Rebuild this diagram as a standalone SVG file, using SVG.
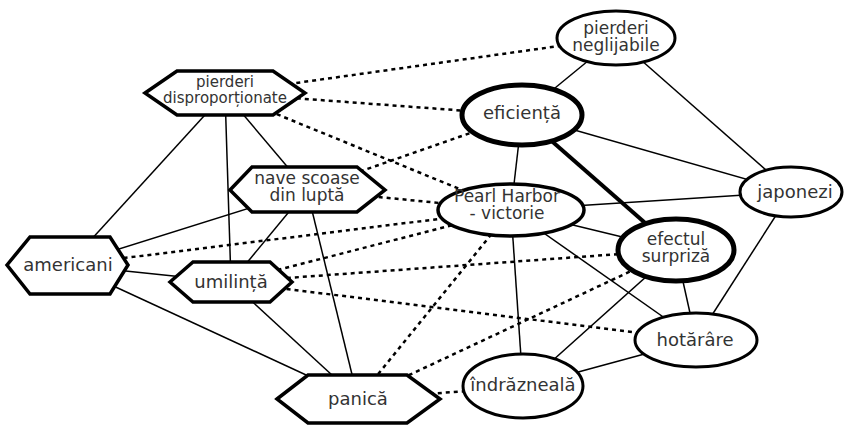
<svg xmlns="http://www.w3.org/2000/svg" width="847" height="426" viewBox="0 0 847 426">
<style>
.s{stroke:#000;stroke-width:1.5;fill:none}
.d{stroke:#000;stroke-width:2.5;stroke-dasharray:4 4;fill:none}
.n{fill:#fff;stroke:#000;stroke-width:3.5;stroke-linejoin:miter}
.t{font-family:"DejaVu Sans",Verdana,sans-serif;font-size:18px;fill:#333;text-anchor:middle}
.t2{font-size:17px}
</style>
<rect width="847" height="426" fill="#fff"/>
<g id="connectors">
<line class="s" x1="225" y1="93" x2="68" y2="265"/>
<line class="s" x1="225" y1="93" x2="231" y2="282"/>
<line class="s" x1="225" y1="93" x2="307" y2="190"/>
<line class="s" x1="307" y1="190" x2="68" y2="265"/>
<line class="s" x1="307" y1="190" x2="231" y2="282"/>
<line class="s" x1="307" y1="190" x2="358" y2="399"/>
<line class="s" x1="68" y1="265" x2="231" y2="282"/>
<line class="s" x1="68" y1="265" x2="358" y2="399"/>
<line class="s" x1="231" y1="282" x2="358" y2="399"/>
<line class="s" x1="511" y1="210" x2="522" y2="115"/>
<line class="s" x1="511" y1="210" x2="791" y2="192"/>
<line class="s" x1="511" y1="210" x2="676" y2="250"/>
<line class="s" x1="511" y1="210" x2="696" y2="340"/>
<line class="s" x1="511" y1="210" x2="523" y2="387"/>
<line class="s" x1="522" y1="115" x2="616" y2="38"/>
<line class="s" x1="522" y1="115" x2="791" y2="192"/>
<line class="s" x1="522" y1="115" x2="676" y2="250" style="stroke-width:4"/>
<line class="s" x1="616" y1="38" x2="791" y2="192"/>
<line class="s" x1="791" y1="192" x2="696" y2="340"/>
<line class="s" x1="676" y1="250" x2="696" y2="340"/>
<line class="s" x1="676" y1="250" x2="523" y2="387"/>
<line class="s" x1="696" y1="340" x2="523" y2="387"/>
<line class="d" x1="225" y1="93" x2="616" y2="38"/>
<line class="d" x1="225" y1="93" x2="522" y2="115"/>
<line class="d" x1="225" y1="93" x2="511" y2="210"/>
<line class="d" x1="307" y1="190" x2="522" y2="115"/>
<line class="d" x1="307" y1="190" x2="511" y2="210"/>
<line class="d" x1="68" y1="265" x2="511" y2="210"/>
<line class="d" x1="231" y1="282" x2="511" y2="210"/>
<line class="d" x1="231" y1="282" x2="676" y2="250"/>
<line class="d" x1="231" y1="282" x2="696" y2="340"/>
<line class="d" x1="358" y1="399" x2="511" y2="210"/>
<line class="d" x1="358" y1="399" x2="676" y2="250"/>
<line class="d" x1="358" y1="399" x2="523" y2="387"/>
</g>
<g id="pierderi-disproportionate">
<polygon class="n" points="145,93 177,71 273,71 305,93 273,115 177,115"/>
<text class="t" x="225" y="87" style="font-size:15px">pierderi</text>
<text class="t" x="225" y="103" style="font-size:15px">disproporționate</text>
</g>
<g id="nave-scoase">
<polygon class="n" points="230,190 252,167 357,167 385,190 357,212 252,212"/>
<text class="t t2" x="307" y="184">nave scoase</text>
<text class="t t2" x="307" y="201">din luptă</text>
</g>
<g id="americani">
<polygon class="n" points="7,265 30,237 110,237 128,265 110,294 30,294"/>
<text class="t" x="68" y="271">americani</text>
</g>
<g id="umilinta">
<polygon class="n" points="170,282 193,262 270,262 292,282 270,302 193,302"/>
<text class="t" x="231" y="288">umilință</text>
</g>
<g id="panica">
<polygon class="n" points="277,399 308,375 407,375 440,399 407,423 308,423"/>
<text class="t" x="358" y="405">panică</text>
</g>
<g id="pierderi-neglijabile">
<ellipse class="n" cx="616" cy="38" rx="59" ry="27" style="stroke-width:3"/>
<text class="t t2" x="616" y="34">pierderi</text>
<text class="t t2" x="616" y="51">neglijabile</text>
</g>
<g id="eficienta">
<ellipse class="n" cx="522" cy="115" rx="60" ry="30" style="stroke-width:5"/>
<text class="t" x="522" y="119">eficiență</text>
</g>
<g id="pearl-harbor">
<ellipse class="n" cx="511" cy="210" rx="73" ry="26"/>
<text class="t t2" x="507" y="202">Pearl Harbor</text>
<text class="t t2" x="507" y="219">- victorie</text>
</g>
<g id="efectul-surpriza">
<ellipse class="n" cx="676" cy="250" rx="58" ry="31" style="stroke-width:5"/>
<text class="t t2" x="676" y="245">efectul</text>
<text class="t t2" x="676" y="262">surpriză</text>
</g>
<g id="japonezi">
<ellipse class="n" cx="791" cy="192" rx="51" ry="25" style="stroke-width:3"/>
<text class="t" x="795" y="198">japonezi</text>
</g>
<g id="hotarare">
<ellipse class="n" cx="696" cy="340" rx="61" ry="27" style="stroke-width:3"/>
<text class="t" x="695" y="346">hotărâre</text>
</g>
<g id="indrazneala">
<ellipse class="n" cx="523" cy="386" rx="60" ry="32" style="stroke-width:3"/>
<text class="t" x="523" y="391">îndrăzneală</text>
</g>
</svg>
